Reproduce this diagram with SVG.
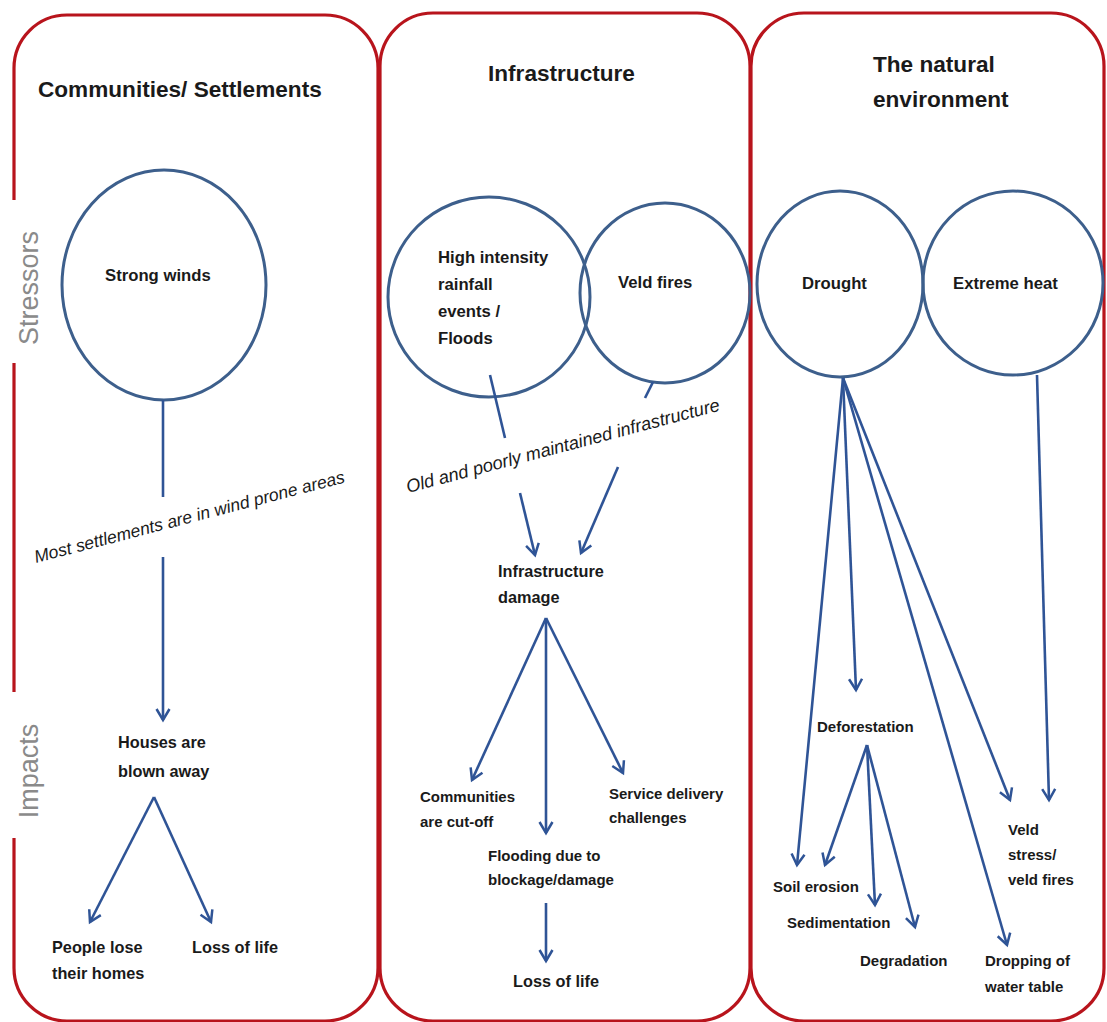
<svg xmlns="http://www.w3.org/2000/svg" width="1107" height="1022" viewBox="0 0 1107 1022">
<style>
.frame{fill:none;stroke:#b8141c;stroke-width:3.2}
.node{fill:none;stroke:#3d5f8c;stroke-width:3}
.con{fill:none;stroke:#2f5496;stroke-width:2.6}
.title{font-family:"Liberation Sans",Arial,sans-serif;font-weight:bold;font-size:22.6px;fill:#1a1a1a}
.cl{font-family:"Liberation Sans",Arial,sans-serif;font-weight:bold;font-size:16.7px;fill:#1a1a1a}
.l16{font-family:"Liberation Sans",Arial,sans-serif;font-weight:bold;font-size:16.3px;fill:#1a1a1a}
.l15{font-family:"Liberation Sans",Arial,sans-serif;font-weight:bold;font-size:15px;fill:#1a1a1a}
.it{font-family:"Liberation Sans",Arial,sans-serif;font-style:italic;font-size:17.5px;fill:#1a1a1a}
.side{font-family:"Liberation Sans",Arial,sans-serif;font-size:27px;fill:#8a8a8a}
</style>
<defs>
<marker id="arr" markerWidth="16" markerHeight="16" refX="13" refY="8" orient="auto" markerUnits="userSpaceOnUse" viewBox="0 0 16 16">
<path d="M2,1.5 L13,8 L2,14.5" fill="none" stroke="#2f5496" stroke-width="2.5"/>
</marker>
</defs>
<rect width="1107" height="1022" fill="#ffffff"/>
<g id="panels">
<path class="frame" d="M14,200 L14,68 A53,53 0 0 1 67,15 L325,15 A53,53 0 0 1 378,68 L378,968 A53,53 0 0 1 325,1021 L67,1021 A53,53 0 0 1 14,968 L14,838"/>
<path class="frame" d="M14,363 L14,692"/>
<rect class="frame" x="380" y="13" width="370" height="1008" rx="53" ry="53"/>
<rect class="frame" x="751" y="13" width="353" height="1008" rx="53" ry="53"/>
</g>
<g id="axis-labels">
<text class="side" text-anchor="middle" transform="translate(38,288) rotate(-90)">Stressors</text>
<text class="side" text-anchor="middle" transform="translate(38,771) rotate(-90)">Impacts</text>
</g>
<g id="titles">
<text class="title" x="38" y="97">Communities/ Settlements</text>
<text class="title" x="488" y="81">Infrastructure</text>
<text class="title" x="873" y="72">The natural</text>
<text class="title" x="873" y="107">environment</text>
</g>
<g id="strong-winds">
<ellipse class="node" cx="164" cy="285" rx="102" ry="115"/>
<text class="cl" x="105" y="281">Strong winds</text>
</g>
<g id="high-intensity">
<ellipse class="node" cx="489" cy="297" rx="101" ry="100"/>
<text class="cl" x="438" y="263">High intensity</text>
<text class="cl" x="438" y="290">rainfall</text>
<text class="cl" x="438" y="317">events /</text>
<text class="cl" x="438" y="344">Floods</text>
</g>
<g id="veld-fires">
<ellipse class="node" cx="665" cy="293" rx="85" ry="90"/>
<text class="cl" x="618" y="288">Veld fires</text>
</g>
<g id="drought">
<ellipse class="node" cx="840" cy="284" rx="83" ry="93"/>
<text class="cl" x="802" y="289">Drought</text>
</g>
<g id="extreme-heat">
<ellipse class="node" cx="1013" cy="283" rx="90" ry="92"/>
<text class="cl" x="953" y="289">Extreme heat</text>
</g>
<g id="houses"><text class="l16" x="118" y="748">Houses are</text><text class="l16" x="118" y="777">blown away</text></g>
<g id="people-lose"><text class="l16" x="52" y="953">People lose</text><text class="l16" x="52" y="979">their homes</text></g>
<g id="loss-life-1"><text class="l16" x="192" y="953">Loss of life</text></g>
<g id="infra-damage"><text class="l16" x="498" y="577">Infrastructure</text><text class="l16" x="498" y="603">damage</text></g>
<g id="cut-off"><text class="l15" x="420" y="802">Communities</text><text class="l15" x="420" y="827">are cut-off</text></g>
<g id="service"><text class="l15" x="609" y="799">Service delivery</text><text class="l15" x="609" y="823">challenges</text></g>
<g id="flooding"><text class="l15" x="488" y="861">Flooding due to</text><text class="l15" x="488" y="885">blockage/damage</text></g>
<g id="loss-life-2"><text class="l16" x="513" y="987">Loss of life</text></g>
<g id="deforestation"><text class="l15" x="817" y="732">Deforestation</text></g>
<g id="soil-erosion"><text class="l15" x="773" y="892">Soil erosion</text></g>
<g id="sedimentation"><text class="l15" x="787" y="928">Sedimentation</text></g>
<g id="degradation"><text class="l15" x="860" y="966">Degradation</text></g>
<g id="dropping"><text class="l15" x="985" y="966">Dropping of</text><text class="l15" x="985" y="992">water table</text></g>
<g id="veld-stress"><text class="l15" x="1008" y="835">Veld</text><text class="l15" x="1008" y="860">stress/</text><text class="l15" x="1008" y="885">veld fires</text></g>
<g id="connectors">
<line class="con" x1="163" y1="400" x2="163" y2="497"/>
<line class="con" x1="163" y1="557" x2="163" y2="720" marker-end="url(#arr)"/>
<text class="it" transform="translate(36,563) rotate(-14.6)">Most settlements are in wind prone areas</text>
<line class="con" x1="154" y1="797" x2="90" y2="922" marker-end="url(#arr)"/>
<line class="con" x1="154" y1="797" x2="211" y2="922" marker-end="url(#arr)"/>
<line class="con" x1="490" y1="375" x2="505" y2="438"/>
<line class="con" x1="653" y1="382" x2="645" y2="398"/>
<text class="it" style="font-size:18.2px" transform="translate(408,493) rotate(-14.8)">Old and poorly maintained infrastructure</text>
<line class="con" x1="520" y1="493" x2="535" y2="555" marker-end="url(#arr)"/>
<line class="con" x1="618" y1="467" x2="581" y2="553" marker-end="url(#arr)"/>
<line class="con" x1="546" y1="618" x2="472" y2="780" marker-end="url(#arr)"/>
<line class="con" x1="546" y1="618" x2="546" y2="833" marker-end="url(#arr)"/>
<line class="con" x1="546" y1="618" x2="623" y2="773" marker-end="url(#arr)"/>
<line class="con" x1="546" y1="903" x2="546" y2="961" marker-end="url(#arr)"/>
<line class="con" x1="843" y1="378" x2="797" y2="865" marker-end="url(#arr)"/>
<line class="con" x1="843" y1="378" x2="856" y2="690" marker-end="url(#arr)"/>
<line class="con" x1="843" y1="378" x2="1007" y2="945" marker-end="url(#arr)"/>
<line class="con" x1="843" y1="378" x2="1010" y2="800" marker-end="url(#arr)"/>
<line class="con" x1="1037" y1="375" x2="1049" y2="800" marker-end="url(#arr)"/>
<line class="con" x1="867" y1="745" x2="825" y2="865" marker-end="url(#arr)"/>
<line class="con" x1="867" y1="745" x2="875" y2="905" marker-end="url(#arr)"/>
<line class="con" x1="867" y1="745" x2="915" y2="927" marker-end="url(#arr)"/>
</g>
</svg>
